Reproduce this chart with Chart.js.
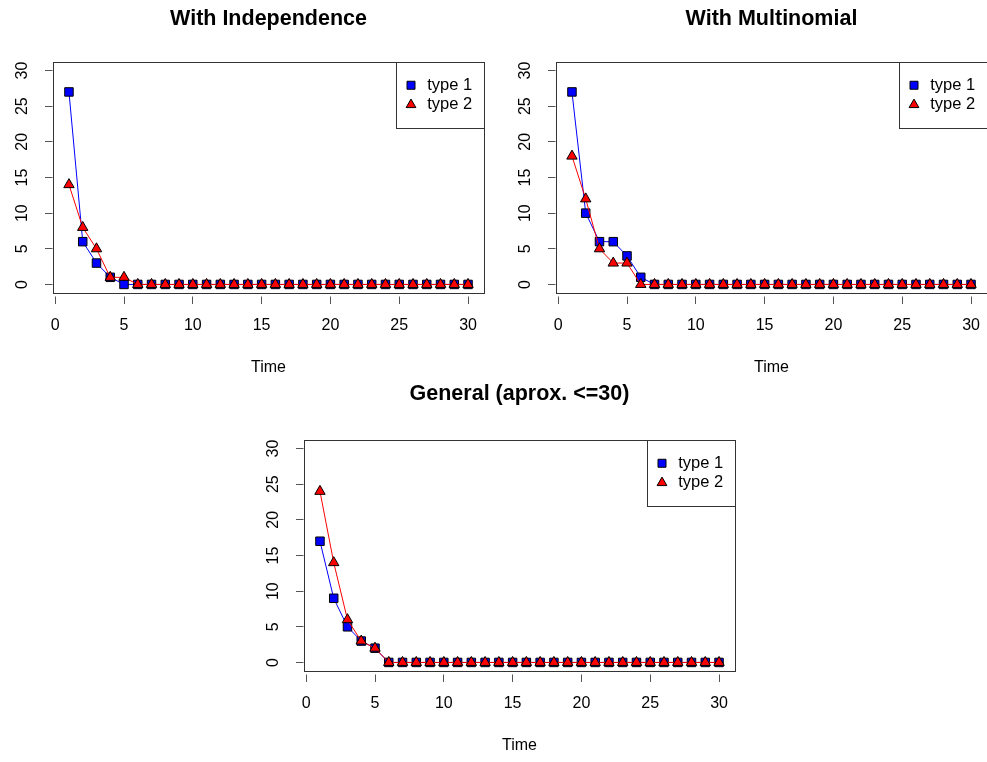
<!DOCTYPE html>
<html>
<head>
<meta charset="utf-8">
<script src="https://cdn.jsdelivr.net/npm/chart.js@4.4.0/dist/chart.umd.min.js"></script>
<style>
  html, body { margin: 0; padding: 0; background: #fff; overflow: hidden; width: 987px; height: 762px; }
  .panel { position: absolute; width: 494px; height: 381px; }
</style>
</head>
<body>
<div class="panel" style="left:0;top:0"><canvas id="c1"></canvas></div>
<div class="panel" style="left:503px;top:0"><canvas id="c2"></canvas></div>
<div class="panel" style="left:251px;top:378px"><canvas id="c3"></canvas></div>
<script>
// time steps
const time = [1, 2, 3, 4, 5, 6, 7, 8, 9, 10, 11, 12, 13, 14, 15, 16, 17, 18, 19, 20, 21, 22, 23, 24, 25, 26, 27, 28, 29, 30];

// With Independence
const indepType1 = [27, 6, 3, 1, 0, 0, 0, 0, 0, 0, 0, 0, 0, 0, 0, 0, 0, 0, 0, 0, 0, 0, 0, 0, 0, 0, 0, 0, 0, 0];
const indepType2 = [14, 8, 5, 1, 1, 0, 0, 0, 0, 0, 0, 0, 0, 0, 0, 0, 0, 0, 0, 0, 0, 0, 0, 0, 0, 0, 0, 0, 0, 0];

// With Multinomial
const multType1 = [27, 10, 6, 6, 4, 1, 0, 0, 0, 0, 0, 0, 0, 0, 0, 0, 0, 0, 0, 0, 0, 0, 0, 0, 0, 0, 0, 0, 0, 0];
const multType2 = [18, 12, 5, 3, 3, 0, 0, 0, 0, 0, 0, 0, 0, 0, 0, 0, 0, 0, 0, 0, 0, 0, 0, 0, 0, 0, 0, 0, 0, 0];

// General (aprox. <=30)
const genType1 = [17, 9, 5, 3, 2, 0, 0, 0, 0, 0, 0, 0, 0, 0, 0, 0, 0, 0, 0, 0, 0, 0, 0, 0, 0, 0, 0, 0, 0, 0];
const genType2 = [24, 14, 6, 3, 2, 0, 0, 0, 0, 0, 0, 0, 0, 0, 0, 0, 0, 0, 0, 0, 0, 0, 0, 0, 0, 0, 0, 0, 0, 0];

const xTicks = [0, 5, 10, 15, 20, 25, 30];
const yTicks = [0, 5, 10, 15, 20, 25, 30];
const seriesNames = ['type 1', 'type 2'];

Chart.defaults.font.family = '"Liberation Sans", Arial, Helvetica, sans-serif';
Chart.defaults.color = '#000';

// R-like box around the plot region + legend frame, legend moved to top-right
const rFrame = {
  id: 'rFrame',
  afterLayout(chart) {
    const a = chart.chartArea;
    const lg = chart.legend;
    const w = lg.width;
    lg.left = a.right - 84;
    lg.right = lg.left + w;
    lg.top = a.top + 12;
  },
  afterDraw(chart) {
    const a = chart.chartArea;
    const ctx = chart.ctx;
    ctx.save();
    ctx.strokeStyle = '#333';
    ctx.lineWidth = 1;
    ctx.strokeRect(Math.round(a.left) + 0.5, Math.round(a.top) + 0.5, Math.round(a.right - a.left), Math.round(a.bottom - a.top));
    ctx.strokeRect(Math.round(a.right) - 88 + 0.5, Math.round(a.top) + 0.5, 88, 66);
    ctx.restore();
  }
};

function series(label, values, color, style) {
  return {
    label: label,
    data: time.map((t, i) => ({x: t, y: values[i]})),
    borderColor: color,
    borderWidth: 1,
    pointStyle: style,
    pointRadius: 6,
    pointHoverRadius: 6,
    pointBackgroundColor: color,
    pointBorderColor: '#000',
    pointBorderWidth: 1,
    fill: false,
    tension: 0,
    order: style === 'rect' ? 2 : 1
  };
}

const titleSize = 21.5;

function makeChart(id, title, t1, t2, titleTop) {
  new Chart(document.getElementById(id), {
    type: 'line',
    data: {
      datasets: [
        series(seriesNames[0], t1, '#0000ff', 'rect'),
        series(seriesNames[1], t2, '#ff0000', 'triangle')
      ]
    },
    options: {
      responsive: true,
      maintainAspectRatio: false,
      animation: false,
      devicePixelRatio: 1,
      layout: { padding: { left: 0, top: 0, right: 10, bottom: 0 } },
      plugins: {
        title: {
          display: true,
          fullSize: false,
          text: title,
          color: '#000',
          font: { size: titleSize, weight: 'bold' },
          padding: { top: titleTop, bottom: 62 - titleSize * 1.2 - titleTop }
        },
        legend: {
          position: 'chartArea',
          align: 'start',
          labels: {
            usePointStyle: true,
            boxHeight: 8,
            boxWidth: 16,
            padding: 3,
            color: '#000',
            font: { size: 16.5 },
            sort: (a, b) => a.datasetIndex - b.datasetIndex
          }
        },
        tooltip: { enabled: false }
      },
      scales: {
        x: {
          type: 'linear',
          min: -0.16,
          max: 31.16,
          afterBuildTicks: s => { s.ticks = xTicks.map(v => ({value: v})); },
          afterFit: s => { s.height = 88; },
          border: { display: false },
          grid: { drawOnChartArea: false, drawTicks: true, tickLength: 11, color: '#555', tickBorderDash: [0, 3.5, 7.5, 50] },
          ticks: { font: { size: 16 }, color: '#000', padding: 12, maxRotation: 0 },
          title: { display: true, text: 'Time', color: '#000', font: { size: 16 }, padding: { top: 0, bottom: 4 } }
        },
        y: {
          type: 'linear',
          min: -1.2,
          max: 31.2,
          afterBuildTicks: s => { s.ticks = yTicks.map(v => ({value: v})); },
          afterFit: s => { s.width = 53; },
          border: { display: false },
          grid: { drawOnChartArea: false, drawTicks: true, tickLength: 11, color: '#555', tickBorderDash: [0, 3, 7.5, 50] },
          ticks: { font: { size: 16 }, color: '#000', padding: 11, minRotation: 90, maxRotation: 90, crossAlign: 'center' }
        }
      }
    },
    plugins: [rFrame]
  });
}

makeChart('c1', 'With Independence', indepType1, indepType2, 6.5);
makeChart('c2', 'With Multinomial', multType1, multType2, 6.5);
makeChart('c3', 'General (aprox. <=30)', genType1, genType2, 3.5);
</script>
</body>
</html>
